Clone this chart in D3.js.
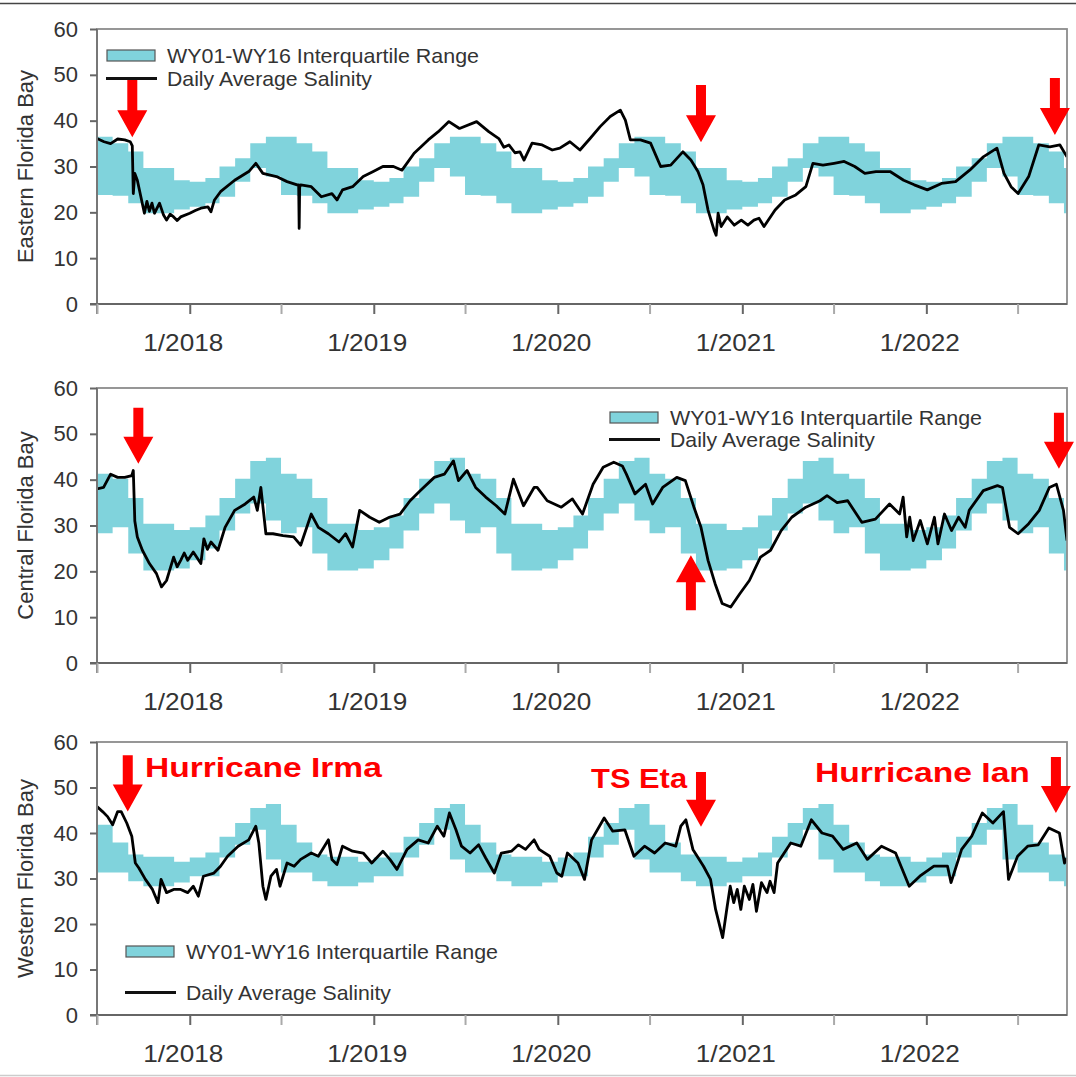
<!DOCTYPE html>
<html>
<head>
<meta charset="utf-8">
<script src="https://cdn.jsdelivr.net/npm/d3@7"></script>
<style>
  body { margin: 0; background: #fff; }
  svg { display: block; font-family: "Liberation Sans", Arial, sans-serif; }
</style>
</head>
<body>
<div class="canva"></div>
<script>
// monthly interquartile range (WY01-WY16), Jan..Dec
const months = ['Jan','Feb','Mar','Apr','May','Jun','Jul','Aug','Sep','Oct','Nov','Dec'];
const eastQ75 = [26.7, 27.5, 30.0, 31.8, 35.1, 36.5, 36.5, 35.1, 33.3, 29.7, 29.7, 27.0];
const eastQ25 = [21.2, 22.0, 23.4, 26.7, 29.7, 27.8, 23.8, 23.6, 22.0, 19.8, 19.8, 20.6];
const centQ75 = [29.6, 32.2, 36.0, 40.2, 44.1, 44.8, 41.3, 40.2, 36.0, 30.4, 30.4, 29.0];
const centQ25 = [22.4, 25.0, 28.9, 32.6, 34.8, 31.1, 28.3, 29.6, 23.9, 20.2, 20.2, 20.6];
const westQ75 = [34.6, 35.7, 39.2, 42.2, 45.5, 46.4, 41.8, 37.9, 35.3, 34.8, 34.8, 33.7];
const westQ25 = [30.5, 30.5, 34.6, 37.4, 40.7, 34.2, 31.3, 31.3, 29.4, 28.3, 28.3, 29.1];

// daily average salinity
const eastern = [
  ['2017-07-01',36.1],['2017-07-15',35.4],['2017-07-28',35.0],['2017-08-11',36.0],['2017-08-25',35.8],
  ['2017-09-05',35.4],['2017-09-09',34.5],['2017-09-11',24.1],['2017-09-14',28.5],['2017-09-19',27.0],
  ['2017-09-26',23.4],['2017-10-03',19.8],['2017-10-08',22.4],['2017-10-13',20.2],['2017-10-18',22.0],
  ['2017-10-23',19.8],['2017-11-02',22.0],['2017-11-10',19.4],['2017-11-16',18.3],['2017-11-23',19.6],
  ['2017-11-30',19.0],['2017-12-07',18.2],['2017-12-14',19.0],['2018-01-01',19.8],['2018-01-12',20.4],
  ['2018-01-23',20.9],['2018-02-06',21.2],['2018-02-12',20.1],['2018-02-19',22.7],['2018-03-03',24.5],
  ['2018-03-31',27.0],['2018-04-28',28.9],['2018-05-12',30.7],['2018-05-26',28.5],['2018-06-22',27.8],
  ['2018-07-13',26.7],['2018-08-02',26.0],['2018-08-05',26.0],['2018-08-06',16.5],['2018-08-07',25.5],
  ['2018-08-09',26.0],['2018-08-30',25.6],['2018-09-19',23.4],['2018-10-10',24.1],['2018-10-20',22.7],
  ['2018-10-31',24.9],['2018-11-20',25.6],['2018-12-11',27.8],['2018-12-31',28.9],['2019-01-19',30.0],
  ['2019-02-09',30.0],['2019-02-26',29.2],['2019-03-22',32.9],['2019-04-19',35.8],['2019-05-09',37.6],
  ['2019-05-30',39.8],['2019-06-20',38.3],['2019-07-24',39.8],['2019-08-17',37.6],['2019-09-06',36.1],
  ['2019-09-16',34.2],['2019-09-26',34.7],['2019-10-08',33.0],['2019-10-18',33.2],['2019-10-26',31.4],
  ['2019-11-11',35.1],['2019-12-01',34.7],['2019-12-21',33.6],['2020-01-05',34.0],['2020-01-25',35.4],
  ['2020-02-14',33.6],['2020-03-05',36.1],['2020-03-25',38.7],['2020-04-14',40.9],['2020-05-04',42.3],
  ['2020-05-14',40.1],['2020-05-24',35.8],['2020-06-13',35.8],['2020-07-03',35.1],['2020-07-23',30.0],
  ['2020-08-12',30.3],['2020-09-05',33.2],['2020-09-21',31.4],['2020-10-05',28.9],['2020-10-15',26.0],
  ['2020-10-25',20.5],['2020-11-06',16.1],['2020-11-10',15.0],['2020-11-14',19.8],['2020-11-20',16.9],
  ['2020-12-02',19.0],['2020-12-16',17.2],['2020-12-30',18.3],['2021-01-12',17.2],['2021-01-24',18.3],
  ['2021-02-03',18.7],['2021-02-13',16.9],['2021-03-07',20.5],['2021-03-26',22.7],['2021-04-17',23.8],
  ['2021-05-07',25.6],['2021-05-21',30.7],['2021-06-10',30.3],['2021-07-02',30.7],['2021-07-22',31.1],
  ['2021-08-12',30.0],['2021-09-01',28.5],['2021-09-23',28.9],['2021-10-21',28.9],['2021-11-17',27.0],
  ['2021-12-08',26.0],['2022-01-03',24.9],['2022-01-31',26.3],['2022-02-28',26.7],['2022-03-28',29.2],
  ['2022-04-24',32.1],['2022-05-21',34.0],['2022-06-04',28.5],['2022-06-18',25.6],['2022-07-02',24.1],
  ['2022-07-23',27.8],['2022-08-12',34.7],['2022-09-03',34.3],['2022-09-23',34.7],['2022-10-07',32.1]
];
const central = [
  ['2017-07-01',38.0],['2017-07-14',38.3],['2017-07-28',41.2],['2017-08-11',40.5],['2017-08-25',40.5],
  ['2017-09-08',40.9],['2017-09-11',42.0],['2017-09-14',31.0],['2017-09-19',27.5],['2017-09-29',24.6],
  ['2017-10-13',21.7],['2017-10-27',19.5],['2017-11-06',16.6],['2017-11-16',18.0],['2017-11-24',20.9],
  ['2017-11-30',23.1],['2017-12-07',21.0],['2017-12-14',22.4],['2017-12-21',24.0],['2017-12-28',22.4],
  ['2018-01-08',24.2],['2018-01-23',21.7],['2018-01-29',27.1],['2018-02-05',24.8],['2018-02-12',26.4],
  ['2018-02-26',24.6],['2018-03-12',29.6],['2018-03-31',33.3],['2018-04-21',34.7],['2018-05-08',36.2],
  ['2018-05-15',33.3],['2018-05-22',38.3],['2018-06-01',28.2],['2018-06-15',28.2],['2018-07-05',27.8],
  ['2018-07-26',27.5],['2018-08-09',25.7],['2018-08-30',32.5],['2018-09-13',29.6],['2018-10-03',28.2],
  ['2018-10-24',26.4],['2018-11-06',28.2],['2018-11-20',25.3],['2018-12-04',33.3],['2018-12-24',31.8],
  ['2019-01-12',30.7],['2019-02-01',31.8],['2019-02-22',32.5],['2019-03-14',35.4],['2019-04-03',37.6],
  ['2019-05-01',40.5],['2019-05-21',41.2],['2019-06-08',44.1],['2019-06-18',39.8],['2019-07-05',42.0],
  ['2019-07-22',38.3],['2019-08-11',36.2],['2019-09-01',34.3],['2019-09-18',32.5],['2019-10-05',40.1],
  ['2019-10-25',34.3],['2019-11-15',38.3],['2019-11-21',38.3],['2019-12-11',35.4],['2020-01-08',34.0],
  ['2020-01-30',35.8],['2020-02-19',32.5],['2020-03-11',39.0],['2020-03-31',42.7],['2020-04-21',43.8],
  ['2020-05-08',43.0],['2020-05-16',41.2],['2020-06-02',36.9],['2020-06-23',39.0],['2020-07-07',34.7],
  ['2020-07-27',38.3],['2020-08-24',40.5],['2020-09-10',39.8],['2020-09-27',34.0],['2020-10-11',29.6],
  ['2020-10-25',22.4],['2020-11-08',17.3],['2020-11-22',13.0],['2020-12-09',12.2],['2020-12-27',15.1],
  ['2021-01-15',18.0],['2021-02-06',23.1],['2021-02-26',24.6],['2021-03-19',28.9],['2021-04-09',31.8],
  ['2021-05-07',34.0],['2021-06-04',35.4],['2021-06-18',36.5],['2021-07-08',35.0],['2021-07-29',35.4],
  ['2021-08-26',30.7],['2021-09-22',31.4],['2021-10-20',34.7],['2021-11-09',32.5],['2021-11-16',36.2],
  ['2021-11-23',27.5],['2021-11-29',31.8],['2021-12-06',26.7],['2021-12-20',31.1],['2022-01-03',26.0],
  ['2022-01-17',31.8],['2022-01-24',26.0],['2022-02-06',32.5],['2022-02-20',28.9],['2022-03-06',31.8],
  ['2022-03-19',29.6],['2022-03-27',33.3],['2022-04-24',37.6],['2022-05-22',38.7],['2022-06-01',38.3],
  ['2022-06-15',29.6],['2022-07-02',28.2],['2022-07-23',30.4],['2022-08-13',33.3],['2022-09-02',38.3],
  ['2022-09-16',39.0],['2022-09-30',33.3],['2022-10-07',26.7]
];
const western = [
  ['2017-07-01',45.8],['2017-07-12',44.7],['2017-07-22',43.6],['2017-08-01',41.8],['2017-08-11',44.7],
  ['2017-08-18',44.7],['2017-08-29',42.2],['2017-09-08',39.3],['2017-09-15',33.4],['2017-09-22',32.3],
  ['2017-10-05',29.8],['2017-10-19',27.6],['2017-10-30',24.7],['2017-11-05',29.8],['2017-11-16',26.9],
  ['2017-11-30',27.6],['2017-12-14',27.6],['2017-12-28',26.9],['2018-01-08',28.3],['2018-01-18',26.1],
  ['2018-01-28',30.5],['2018-02-18',31.2],['2018-03-03',32.7],['2018-03-17',34.9],['2018-04-07',37.1],
  ['2018-04-28',38.5],['2018-05-12',41.5],['2018-05-18',37.8],['2018-05-26',28.3],['2018-06-01',25.4],
  ['2018-06-11',30.5],['2018-06-22',32.0],['2018-06-29',28.3],['2018-07-13',33.4],['2018-07-27',32.7],
  ['2018-08-09',34.2],['2018-08-30',35.6],['2018-09-13',34.9],['2018-10-03',38.5],['2018-10-10',34.2],
  ['2018-10-20',33.1],['2018-10-31',37.1],['2018-11-20',36.0],['2018-12-11',35.6],['2018-12-28',33.4],
  ['2019-01-19',36.0],['2019-02-02',34.2],['2019-02-16',32.0],['2019-03-08',36.4],['2019-03-30',38.5],
  ['2019-04-19',37.8],['2019-05-07',41.5],['2019-05-20',39.3],['2019-05-31',44.4],['2019-06-13',40.7],
  ['2019-06-24',37.1],['2019-07-11',35.6],['2019-07-28',37.4],['2019-08-11',34.5],['2019-08-28',31.2],
  ['2019-09-11',35.6],['2019-10-01',36.0],['2019-10-15',37.4],['2019-10-29',36.4],['2019-11-15',38.5],
  ['2019-11-25',36.4],['2019-12-16',34.9],['2019-12-30',31.2],['2020-01-09',30.5],['2020-01-20',35.6],
  ['2020-02-10',33.4],['2020-02-23',29.8],['2020-03-08',38.5],['2020-04-02',43.3],['2020-04-19',40.4],
  ['2020-05-13',40.7],['2020-05-31',34.9],['2020-06-21',37.1],['2020-07-11',35.6],['2020-08-01',37.8],
  ['2020-08-22',37.1],['2020-09-01',41.5],['2020-09-11',42.9],['2020-09-25',36.4],['2020-10-16',32.7],
  ['2020-10-30',29.8],['2020-11-09',23.2],['2020-11-23',17.0],['2020-12-02',23.9],['2020-12-08',28.3],
  ['2020-12-15',24.7],['2020-12-22',27.6],['2020-12-29',23.2],['2021-01-05',28.3],['2021-01-15',25.4],
  ['2021-01-22',28.7],['2021-01-29',22.8],['2021-02-08',29.1],['2021-02-19',26.9],['2021-02-25',29.4],
  ['2021-03-05',26.9],['2021-03-12',33.4],['2021-04-07',37.8],['2021-04-27',37.1],['2021-05-18',42.9],
  ['2021-06-08',40.0],['2021-06-29',39.3],['2021-07-20',36.4],['2021-08-16',37.8],['2021-09-06',34.2],
  ['2021-10-04',37.1],['2021-11-01',35.6],['2021-11-28',28.3],['2021-12-19',30.5],['2022-01-16',32.7],
  ['2022-02-12',32.7],['2022-02-19',29.1],['2022-03-12',36.4],['2022-04-01',39.3],['2022-04-22',44.4],
  ['2022-05-13',42.2],['2022-06-03',44.7],['2022-06-13',29.8],['2022-07-01',34.9],['2022-07-21',37.1],
  ['2022-08-11',37.4],['2022-09-01',41.1],['2022-09-22',40.0],['2022-10-02',33.4],['2022-10-07',34.5]
];

// storm arrows: date, tip value, tail value
const eastArrows = [['2017-09-09',36.4,48.9],['2020-10-11',35.3,47.8],['2022-09-13',36.9,49.3]];
const centArrows = [['2017-09-21',43.5,55.7],['2020-09-21',23.5,11.5],['2022-09-21',42.4,54.6]];
const westArrows = [['2017-08-31',44.7,57.1],['2020-10-11',41.4,53.4],['2022-09-15',44.4,56.7]];
const stormLabels = [['Hurricane Irma','2017-10-04',52.3,237],['TS Eta','2020-03-07',49.9,96],['Hurricane Ian','2021-05-25',51.2,215]];

const yTicks = [0, 10, 20, 30, 40, 50, 60];
const bandColor = '#80d3dc';

const parse = d3.timeParse('%Y-%m-%d');
const start = parse('2017-07-01');
const end = parse('2022-10-07');

const svg = d3.select('.canva').append('svg')
  .attr('width', 1076)
  .attr('height', 1077);

// thin page borders of the original capture
svg.append('line').attr('x1', 0).attr('x2', 1076).attr('y1', 3.5).attr('y2', 3.5)
  .attr('stroke', '#444').attr('stroke-width', 1.5);
svg.append('line').attr('x1', 0).attr('x2', 1076).attr('y1', 1075.5).attr('y2', 1075.5)
  .attr('stroke', '#ccc').attr('stroke-width', 1.5);

const x = d3.scaleTime().domain([start, end]).range([97, 1067]);

const panels = [
  { title: 'Eastern Florida Bay', series: eastern, q25: eastQ25, q75: eastQ75, top: 29, bottom: 304,
    arrows: eastArrows, legend: { x: 107, y: 50, gap: 23 } },
  { title: 'Central Florida Bay', series: central, q25: centQ25, q75: centQ75, top: 388, bottom: 663,
    arrows: centArrows, legend: { x: 610, y: 412, gap: 22 } },
  { title: 'Western Florida Bay', series: western, q25: westQ25, q75: westQ75, top: 742, bottom: 1015,
    arrows: westArrows, legend: { x: 126, y: 946, gap: 41 }, labels: stormLabels }
];

panels.forEach((p, i) => {
  const y = d3.scaleLinear().domain([0, 60]).range([p.bottom, p.top]);
  const g = svg.append('g');

  const clipId = 'clip' + i;
  svg.append('clipPath').attr('id', clipId)
    .append('rect')
    .attr('x', x.range()[0]).attr('y', p.top)
    .attr('width', x.range()[1] - x.range()[0]).attr('height', p.bottom - p.top);

  // monthly band table
  const band = d3.timeMonth.range(start, end).map(m => ({
    date: m, lo: p.q25[m.getMonth()], hi: p.q75[m.getMonth()]
  }));
  band.push({ date: end, lo: band[band.length - 1].lo, hi: band[band.length - 1].hi });

  const area = d3.area()
    .curve(d3.curveStepAfter)
    .x(d => x(d.date))
    .y0(d => y(d.lo))
    .y1(d => y(d.hi));

  g.append('path')
    .datum(band)
    .attr('clip-path', `url(#${clipId})`)
    .attr('fill', bandColor)
    .attr('d', area);

  const line = d3.line()
    .x(d => x(parse(d[0])))
    .y(d => y(d[1]));

  g.append('path')
    .datum(p.series)
    .attr('clip-path', `url(#${clipId})`)
    .attr('fill', 'none')
    .attr('stroke', '#000')
    .attr('stroke-width', 2.8)
    .attr('stroke-linejoin', 'round')
    .attr('d', line);

  // frame
  g.append('rect')
    .attr('x', x.range()[0]).attr('y', p.top)
    .attr('width', x.range()[1] - x.range()[0]).attr('height', p.bottom - p.top)
    .attr('fill', 'none').attr('stroke', '#8c8c8c').attr('stroke-width', 1.8);
  g.append('line')
    .attr('x1', x.range()[0] - 7).attr('x2', x.range()[1])
    .attr('y1', p.bottom).attr('y2', p.bottom)
    .attr('stroke', '#666').attr('stroke-width', 2);
  g.append('line')
    .attr('x1', x.range()[0]).attr('x2', x.range()[0])
    .attr('y1', p.top).attr('y2', p.bottom + 10)
    .attr('stroke', '#777').attr('stroke-width', 2);

  // y axis
  const yAxis = g.append('g')
    .attr('transform', `translate(${x.range()[0]},0)`)
    .call(d3.axisLeft(y).tickValues(yTicks).tickSize(7).tickPadding(12));
  yAxis.select('.domain').remove();
  yAxis.selectAll('line').attr('stroke', '#666').attr('stroke-width', 2);
  yAxis.selectAll('text')
    .attr('fill', '#333')
    .style('font-size', '22px')
    .style('font-family', '"Liberation Sans", Arial, sans-serif');

  // x axis: January ticks with labels, July minor ticks
  const majors = d3.timeYear.range(d3.timeYear.ceil(start), end);
  const minors = d3.timeMonth.range(start, end).filter(d => d.getMonth() === 6);

  const minorAxis = g.append('g')
    .attr('transform', `translate(0,${p.bottom})`)
    .call(d3.axisBottom(x).tickValues(minors).tickSize(10).tickFormat(''));
  minorAxis.select('.domain').remove();
  minorAxis.selectAll('line').attr('stroke', '#aaa').attr('stroke-width', 2);

  const majorAxis = g.append('g')
    .attr('transform', `translate(0,${p.bottom})`)
    .call(d3.axisBottom(x).tickValues(majors).tickSize(10).tickPadding(20)
      .tickFormat(d3.timeFormat('%-m/%Y')));
  majorAxis.select('.domain').remove();
  majorAxis.selectAll('line').attr('stroke', '#666').attr('stroke-width', 2);
  majorAxis.selectAll('text')
    .attr('fill', '#333')
    .attr('dx', -7)
    .attr('textLength', 80)
    .attr('lengthAdjust', 'spacingAndGlyphs')
    .style('font-size', '24px')
    .style('font-family', '"Liberation Sans", Arial, sans-serif');

  // y title
  g.append('text')
    .attr('transform', `translate(25,${(p.top + p.bottom) / 2}) rotate(-90)`)
    .attr('text-anchor', 'middle')
    .attr('dy', '0.35em')
    .attr('fill', '#333')
    .style('font-size', '22px')
    .text(p.title);

  // legend
  const L = p.legend;
  g.append('rect')
    .attr('x', L.x).attr('y', L.y).attr('width', 48).attr('height', 11)
    .attr('fill', bandColor).attr('stroke', '#555').attr('stroke-width', 1.2);
  g.append('text')
    .attr('x', L.x + 60).attr('y', L.y + 5.5).attr('dy', '0.35em')
    .attr('fill', '#333').style('font-size', '21px')
    .attr('textLength', 312).attr('lengthAdjust', 'spacingAndGlyphs')
    .text('WY01-WY16 Interquartile Range');
  g.append('line')
    .attr('x1', L.x - 1).attr('x2', L.x + 50)
    .attr('y1', L.y + 5.5 + L.gap).attr('y2', L.y + 5.5 + L.gap)
    .attr('stroke', '#111').attr('stroke-width', 3);
  g.append('text')
    .attr('x', L.x + 60).attr('y', L.y + 5.5 + L.gap).attr('dy', '0.35em')
    .attr('fill', '#333').style('font-size', '21px')
    .attr('textLength', 205).attr('lengthAdjust', 'spacingAndGlyphs')
    .text('Daily Average Salinity');

  // red arrows
  const shaft = 5, head = 15, headLen = 27;
  p.arrows.forEach(a => {
    const ax = x(parse(a[0]));
    const tip = y(a[1]);
    const tail = y(a[2]);
    const s = tip > tail ? 1 : -1;
    const hb = tip - s * headLen;
    const path = d3.path();
    path.moveTo(ax - shaft, tail);
    path.lineTo(ax + shaft, tail);
    path.lineTo(ax + shaft, hb);
    path.lineTo(ax + head, hb);
    path.lineTo(ax, tip);
    path.lineTo(ax - head, hb);
    path.lineTo(ax - shaft, hb);
    path.closePath();
    g.append('path').attr('d', path.toString()).attr('fill', '#ff0000');
  });

  if (p.labels) {
    p.labels.forEach(l => {
      g.append('text')
        .attr('x', x(parse(l[1])))
        .attr('y', y(l[2]))
        .attr('fill', '#ff0000')
        .style('font-size', '27px')
        .style('font-weight', 'bold')
        .attr('textLength', l[3])
        .attr('lengthAdjust', 'spacingAndGlyphs')
        .text(l[0]);
    });
  }
});
</script>
</body>
</html>
